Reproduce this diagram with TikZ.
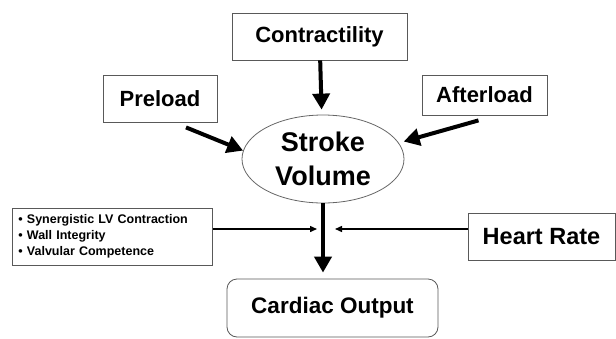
\documentclass[tikz,border=0pt]{standalone}
\usepackage{fontspec}
\setmainfont{Liberation Sans}
\usetikzlibrary{arrows.meta,calc,shapes.geometric}

\begin{document}
\begin{tikzpicture}[x=1pt,y=-1pt,
    box/.style={draw=black!65, line width=0.8pt, inner sep=0pt, font=\bfseries\fontsize{22}{25}\selectfont},
    bigarrow/.style={line width=4pt, -{Triangle[length=16pt,width=17pt]}},
    thinarrow/.style={line width=1.4pt, -{Triangle[length=7pt,width=6pt]}}]
    \useasboundingbox (0,0) rectangle (616,338);
    \coordinate (lvtip) at (317,229);
    \coordinate (hrtip) at (335,229);
    \node[box, minimum width=175pt, minimum height=47pt] (con) at (319.5,36.5) {Contractility};
    \node[box, minimum width=114pt, minimum height=47pt] (pre) at (160,98.5) {Preload};
    \node[box, minimum width=125pt, minimum height=40pt] (aft) at (484.5,95) {Afterload};
    \node[draw=black!60, line width=0.8pt, ellipse, minimum width=162pt, minimum height=88pt, inner sep=0pt,
        align=center, font=\bfseries\fontsize{27}{34}\selectfont] (sv) at (323,159) {Stroke\\Volume};
    \node[box, anchor=west, minimum height=57pt, inner xsep=6pt, text width=188pt, align=left,
        font=\bfseries\fontsize{12.5}{16}\selectfont] (lv) at (12,236.5)
        {\textbullet\ Synergistic LV Contraction\\\textbullet\ Wall Integrity\\\textbullet\ Valvular Competence};
    \node[box, minimum width=147pt, minimum height=47pt, font=\bfseries\fontsize{23.5}{26}\selectfont] (hr) at (541.5,236.5) {Heart Rate};
    \node[box, rounded corners=10pt, minimum width=211pt, minimum height=58pt, font=\bfseries\fontsize{22.5}{26}\selectfont] (co) at (332.5,308) {Cardiac Output};
    \draw[bigarrow, shorten >=5pt] (con) -- (sv);
    \draw[bigarrow] ($(pre.south)+(26,5)$) -- (sv.174);
    \draw[bigarrow, shorten >=5pt] ($(aft.south)+(-6,5)$) -- (sv.12);
    \draw[bigarrow, shorten >=6pt] (sv.south) -- (sv.south |- co.north);
    \draw[thinarrow] (lv.east |- lvtip) -- (lvtip);
    \draw[thinarrow] (hr.west |- hrtip) -- (hrtip);
\end{tikzpicture}
\end{document}
